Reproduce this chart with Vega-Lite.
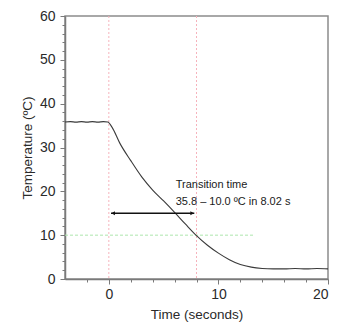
{
  "$schema": "https://vega.github.io/schema/vega-lite/v6.json",
  "width": 263,
  "height": 263,
  "autosize": "none",
  "padding": {"left": 65, "top": 16, "right": 13, "bottom": 53},
  "config": {
    "view": {"stroke": "#8c8c8c", "strokeWidth": 1.5},
    "font": "Liberation Sans",
    "axis": {
      "grid": false,
      "domainColor": "#7a7a7a",
      "domainWidth": 1.5,
      "tickColor": "#7a7a7a",
      "tickWidth": 1,
      "tickSize": 5,
      "labelFont": "Liberation Sans",
      "labelFontSize": 14,
      "labelColor": "#2a2a2a",
      "titleFont": "Liberation Sans",
      "titleFontSize": 13.5,
      "titleFontWeight": "normal",
      "titleColor": "#2a2a2a",
      "labelOverlap": false
    }
  },
  "resolve": {"axis": {"x": "independent", "y": "independent"}},
  "datasets": {
    "curve": [
      {"time": -4, "temp": 35.8}, {"time": -3.5, "temp": 35.9}, {"time": -3, "temp": 35.8},
      {"time": -2.5, "temp": 35.9}, {"time": -2, "temp": 35.8}, {"time": -1.5, "temp": 35.9},
      {"time": -1, "temp": 35.8}, {"time": -0.5, "temp": 35.9}, {"time": -0.1, "temp": 35.8},
      {"time": 0.3, "temp": 34.6}, {"time": 1, "temp": 31.0}, {"time": 2, "temp": 27.0},
      {"time": 3, "temp": 23.3}, {"time": 4, "temp": 20.3}, {"time": 5, "temp": 17.8},
      {"time": 6, "temp": 15.2}, {"time": 7, "temp": 12.5}, {"time": 8, "temp": 9.9},
      {"time": 9, "temp": 7.7}, {"time": 10, "temp": 5.9}, {"time": 11, "temp": 4.4},
      {"time": 12, "temp": 3.3}, {"time": 13, "temp": 2.7}, {"time": 14, "temp": 2.4},
      {"time": 15, "temp": 2.3}, {"time": 16, "temp": 2.3}, {"time": 17, "temp": 2.4},
      {"time": 18, "temp": 2.3}, {"time": 19, "temp": 2.4}, {"time": 20, "temp": 2.3}
    ],
    "vlines": [{"time": 0}, {"time": 8}],
    "hline": [{"t0": -4, "t1": 13.2, "temp": 10}],
    "arrow": [{"t0": 0.2, "t1": 7.8, "temp": 15}],
    "heads": [{"time": 0.4, "temp": 15, "end": "start"}, {"time": 7.6, "temp": 15, "end": "end"}],
    "notes": [
      {"time": 6.1, "temp": 20.8, "label": "Transition time"},
      {"time": 6.1, "temp": 16.9, "label": "35.8 – 10.0 ºC in 8.02 s"}
    ]
  },
  "encoding": {
    "x": {
      "type": "quantitative",
      "scale": {"domain": [-4, 20], "nice": false, "zero": false},
      "axis": null
    },
    "y": {
      "type": "quantitative",
      "scale": {"domain": [0, 60], "nice": false},
      "axis": null
    }
  },
  "layer": [
    {
      "data": {"name": "vlines"},
      "mark": {"type": "rule", "color": "#f6b3bc", "strokeDash": [2, 2], "strokeWidth": 1},
      "encoding": {
        "x": {"field": "time", "type": "quantitative", "title": null,
          "axis": {"orient": "bottom", "values": [-2, 2, 4, 6, 8, 12, 14, 16, 18], "labels": false, "domain": false, "tickSize": 3, "title": null}}
      }
    },
    {
      "data": {"name": "hline"},
      "mark": {"type": "rule", "color": "#ade6ad", "strokeDash": [3, 2], "strokeWidth": 1},
      "encoding": {
        "x": {"field": "t0", "type": "quantitative"},
        "x2": {"field": "t1"},
        "y": {"field": "temp", "type": "quantitative", "title": null,
          "axis": {"orient": "left", "values": [2, 4, 6, 8, 12, 14, 16, 18, 22, 24, 26, 28, 32, 34, 36, 38, 42, 44, 46, 48, 52, 54, 56, 58], "labels": false, "domain": false, "tickSize": 3, "title": null}}
      }
    },
    {
      "data": {"name": "curve"},
      "mark": {"type": "line", "color": "#3a3a3a", "strokeWidth": 1.1, "interpolate": "monotone"},
      "encoding": {
        "x": {"field": "time", "type": "quantitative",
          "axis": {"orient": "bottom", "title": "Time (seconds)", "values": [0, 10, 20], "labelPadding": 3, "titlePadding": 6}},
        "y": {"field": "temp", "type": "quantitative",
          "axis": {"orient": "left", "title": "Temperature (ºC)", "values": [0, 10, 20, 30, 40, 50, 60], "labelPadding": 5, "titlePadding": 5}}
      }
    },
    {
      "data": {"name": "arrow"},
      "mark": {"type": "rule", "color": "#111111", "strokeWidth": 1.3},
      "encoding": {
        "x": {"field": "t0", "type": "quantitative"},
        "x2": {"field": "t1"},
        "y": {"field": "temp", "type": "quantitative"}
      }
    },
    {
      "data": {"name": "heads"},
      "mark": {"type": "point", "filled": true, "color": "#111111", "size": 16, "opacity": 1},
      "encoding": {
        "x": {"field": "time", "type": "quantitative"},
        "y": {"field": "temp", "type": "quantitative"},
        "shape": {"field": "end", "type": "nominal", "scale": {"domain": ["start", "end"], "range": ["triangle-left", "triangle-right"]}, "legend": null}
      }
    },
    {
      "data": {"name": "notes"},
      "mark": {"type": "text", "align": "left", "baseline": "alphabetic", "font": "Liberation Sans", "fontSize": 11, "color": "#1a1a1a"},
      "encoding": {
        "x": {"field": "time", "type": "quantitative"},
        "y": {"field": "temp", "type": "quantitative"},
        "text": {"field": "label"}
      }
    }
  ]
}
